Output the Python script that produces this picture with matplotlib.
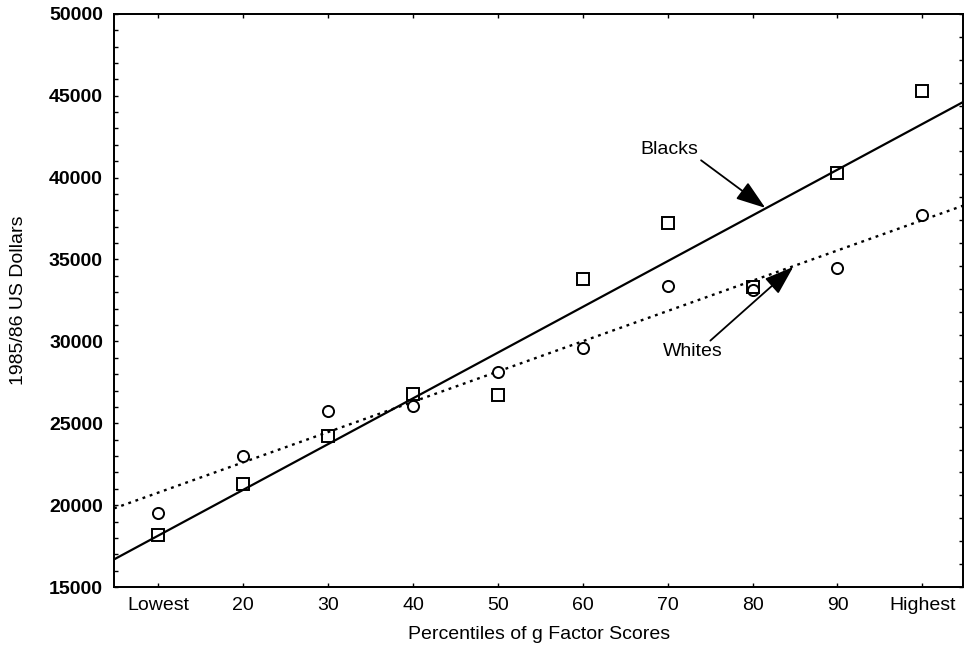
import numpy as np
import matplotlib
matplotlib.use("Agg")
import matplotlib.pyplot as plt
from matplotlib.ticker import MultipleLocator

plt.rcParams['font.family'] = ['Liberation Sans', 'DejaVu Sans']

# percentile groups (Lowest = 10, Highest = 100)
PERCENTILES = [10, 20, 30, 40, 50, 60, 70, 80, 90, 100]
TICK_LABELS = ["Lowest", "20", "30", "40", "50", "60", "70", "80", "90", "Highest"]
BLACKS = [18200, 21300, 24200, 26800, 26700, 33800, 37200, 33300, 40300, 45300]
WHITES = [19500, 23000, 25750, 26070, 28150, 29620, 33390, 33150, 34500, 37720]

XLIM = (4.8, 104.8)
YLIM = (15000, 50000)

fig = plt.figure(figsize=(9.67, 6.56), dpi=100)
ax = fig.add_axes([0.118, 0.105, 0.878, 0.874])

x = np.array(PERCENTILES, dtype=float)
xx = np.array(XLIM)

# regression lines
b_fit = np.polyfit(x, BLACKS, 1)
w_fit = np.polyfit(x, WHITES, 1)
ax.plot(xx, np.polyval(b_fit, xx), color='black', lw=1.6, solid_capstyle='butt')
ax.plot(xx, np.polyval(w_fit, xx), color='black', lw=1.7, linestyle=(0, (1.2, 2.0)))

# data points
ax.plot(x, WHITES, linestyle='none', marker='o', ms=8, mfc='white', mec='black', mew=1.4)
ax.plot(x, BLACKS, linestyle='none', marker='s', ms=8, mfc='none', mec='black', mew=1.4)

ax.set_xlim(*XLIM)
ax.set_ylim(*YLIM)
ax.set_xticks(PERCENTILES)
ax.set_xticklabels(TICK_LABELS)
ax.yaxis.set_major_locator(MultipleLocator(5000))
ax.yaxis.set_minor_locator(MultipleLocator(1000))

ax.tick_params(axis='y', which='both', direction='in', left=True, right=False,
               length=3, width=1, labelsize=14, pad=8)
ax.tick_params(axis='x', which='both', direction='in', bottom=True, top=True,
               length=3, width=1, labelsize=14, pad=7)
for lab in ax.get_yticklabels():
    lab.set_fontweight('bold')

# right spine ticks at a different spacing
ax2 = ax.twinx()
ax2.set_ylim(*YLIM)
ax2.set_yticks(np.linspace(YLIM[0], YLIM[1], 26))
ax2.tick_params(axis='y', direction='in', length=3, width=1, labelright=False)

for a in (ax, ax2):
    for s in a.spines.values():
        s.set_linewidth(1.3)

ax.set_xlabel("Percentiles of g Factor Scores", fontsize=14, labelpad=9)
ax.set_ylabel("1985/86 US Dollars", fontsize=14, labelpad=16)

arrow = dict(arrowstyle='-|>,head_length=1.3,head_width=0.45', color='black', lw=1.3,
             shrinkA=0, shrinkB=0)
ax.annotate("Blacks", xy=(81.5, 38150), xytext=(70.2, 41700), fontsize=14,
            ha='center', va='center', arrowprops=dict(arrow, relpos=(1.0, 0.0)))
ax.annotate("Whites", xy=(84.8, 34550), xytext=(72.9, 29360), fontsize=14,
            ha='center', va='center', arrowprops=dict(arrow, relpos=(0.75, 1.0)))

fig.savefig("out.png", dpi=100)
